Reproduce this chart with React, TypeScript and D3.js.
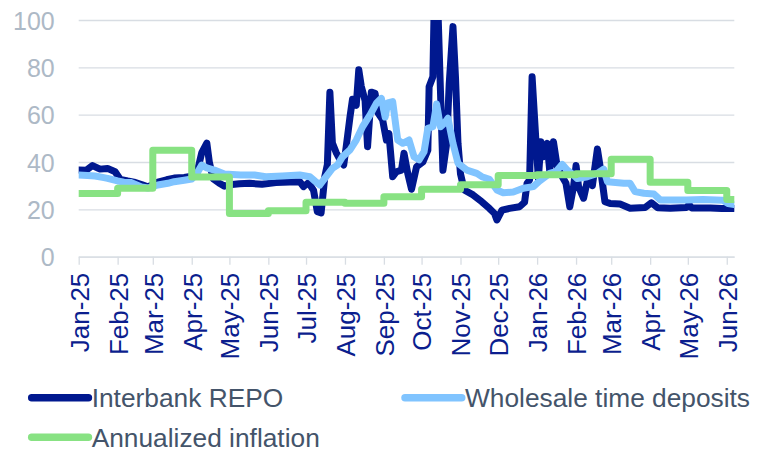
import { useEffect, useRef } from 'react'
import * as d3 from 'd3'

// ─── Data ────────────────────────────────────────────────────────────────────

const parseDay = d3.timeParse('%Y-%m-%d')

const startDate = '2025-01-01'
const endDate = '2026-06-07'

const yTicks = [0, 20, 40, 60, 80, 100]

const repoDates = [
  '2025-01-01', '2025-01-07', '2025-01-12', '2025-01-18', '2025-01-24', '2025-01-30',
  '2025-02-03', '2025-02-09', '2025-02-14', '2025-02-20', '2025-02-25', '2025-03-05',
  '2025-03-12', '2025-03-18', '2025-03-26', '2025-04-01', '2025-04-05', '2025-04-09',
  '2025-04-13', '2025-04-15', '2025-04-18', '2025-04-23', '2025-04-27', '2025-05-03',
  '2025-05-09', '2025-05-17', '2025-05-27', '2025-06-07', '2025-06-18', '2025-06-26',
  '2025-06-29', '2025-07-03', '2025-07-07', '2025-07-10', '2025-07-13', '2025-07-16',
  '2025-07-18', '2025-07-20', '2025-07-22', '2025-07-25', '2025-07-28', '2025-07-31',
  '2025-08-02', '2025-08-05', '2025-08-07', '2025-08-10', '2025-08-12', '2025-08-14',
  '2025-08-17', '2025-08-19', '2025-08-22', '2025-08-25', '2025-08-27', '2025-08-31',
  '2025-09-03', '2025-09-05', '2025-09-08', '2025-09-11', '2025-09-15', '2025-09-17',
  '2025-09-20', '2025-09-23', '2025-09-27', '2025-10-02', '2025-10-06', '2025-10-07',
  '2025-10-10', '2025-10-11', '2025-10-14', '2025-10-18', '2025-10-21', '2025-10-23',
  '2025-10-26', '2025-10-28', '2025-10-30', '2025-11-01', '2025-11-04', '2025-11-11',
  '2025-11-18', '2025-11-24', '2025-11-28', '2025-11-30', '2025-12-04', '2025-12-10',
  '2025-12-18', '2025-12-22', '2025-12-24', '2025-12-26', '2025-12-28', '2025-12-31',
  '2026-01-02', '2026-01-04', '2026-01-06', '2026-01-09', '2026-01-11', '2026-01-14',
  '2026-01-17', '2026-01-21', '2026-01-24', '2026-01-27', '2026-01-30', '2026-02-01',
  '2026-02-03', '2026-02-07', '2026-02-11', '2026-02-14', '2026-02-18', '2026-02-21',
  '2026-02-24', '2026-02-28', '2026-03-08', '2026-03-16', '2026-03-28', '2026-04-02',
  '2026-04-07', '2026-04-17', '2026-04-30', '2026-05-02', '2026-05-04', '2026-05-19',
  '2026-05-28', '2026-06-07',
]
const repoValues = [
  36.6, 36.5, 38.5, 37.0, 37.3, 35.9,
  32.7, 32.0, 31.5, 30.5, 29.5, 31.5,
  32.5, 33.2, 33.5, 34.0, 35.0, 44.0,
  48.0, 40.0, 33.0, 31.0, 29.8, 30.5,
  30.8, 31.0, 30.6, 31.3, 31.6, 31.7,
  29.6, 31.3, 28.0, 19.0, 18.5, 34.0,
  39.0, 69.5, 48.0, 44.0, 41.0, 38.7,
  46.5, 59.0, 66.5, 64.0, 79.0, 72.0,
  66.0, 46.5, 69.5, 69.0, 61.0, 57.8,
  49.3, 52.0, 33.8, 35.9, 36.6, 43.7,
  35.2, 28.5, 38.0, 40.0, 45.0, 71.8,
  76.0, 105, 105, 36.5, 47.9, 73.0,
  97.2, 76.0, 47.9, 35.0, 28.2, 26.1,
  23.2, 20.4, 18.3, 15.5, 19.7, 20.4,
  21.1, 23.0, 31.0, 32.4, 76.0, 49.3,
  33.0, 48.6, 42.2, 47.9, 36.6, 48.6,
  38.0, 33.8, 31.0, 21.1, 29.6, 38.5,
  29.6, 24.7, 34.5, 30.0, 45.5, 35.2,
  23.2, 22.5, 22.3, 20.5, 20.8, 22.8,
  20.7, 20.5, 20.8, 22.0, 20.6, 20.6,
  20.4, 20.4,
]

const depositDates = [
  '2025-01-01', '2025-01-08', '2025-01-14', '2025-01-20', '2025-01-24', '2025-02-01',
  '2025-02-06', '2025-02-12', '2025-02-20', '2025-02-25', '2025-03-05', '2025-03-13',
  '2025-03-18', '2025-03-26', '2025-04-01', '2025-04-05', '2025-04-09', '2025-04-13',
  '2025-04-19', '2025-04-27', '2025-05-10', '2025-05-21', '2025-05-30', '2025-06-12',
  '2025-06-26', '2025-07-04', '2025-07-08', '2025-07-12', '2025-07-17', '2025-07-22',
  '2025-07-26', '2025-07-30', '2025-08-05', '2025-08-10', '2025-08-15', '2025-08-21',
  '2025-08-26', '2025-08-30', '2025-09-02', '2025-09-04', '2025-09-08', '2025-09-12',
  '2025-09-16', '2025-09-21', '2025-09-25', '2025-09-29', '2025-10-03', '2025-10-06',
  '2025-10-10', '2025-10-13', '2025-10-16', '2025-10-19', '2025-10-22', '2025-10-26',
  '2025-10-30', '2025-11-06', '2025-11-14', '2025-11-18', '2025-11-24', '2025-11-30',
  '2025-12-05', '2025-12-13', '2025-12-21', '2025-12-29', '2026-01-03', '2026-01-11',
  '2026-01-16', '2026-01-21', '2026-01-25', '2026-01-30', '2026-02-02', '2026-02-10',
  '2026-02-18', '2026-02-23', '2026-02-26', '2026-03-11', '2026-03-16', '2026-03-20',
  '2026-03-27', '2026-04-04', '2026-04-09', '2026-04-21', '2026-04-30', '2026-05-13',
  '2026-05-29', '2026-06-02', '2026-06-07',
]
const depositValues = [
  34.5, 34.3, 34.1, 33.5, 33.1, 32.0,
  31.5, 31.3, 29.5, 29.0, 30.3, 31.0,
  31.7, 32.3, 32.8, 35.0, 38.7, 37.5,
  36.6, 34.9, 34.5, 34.5, 33.8, 34.1,
  34.5, 33.8, 32.0, 30.3, 33.8, 37.3,
  38.7, 42.2, 45.1, 49.3, 54.9, 59.9,
  64.8, 66.9, 59.0, 65.0, 65.5, 49.3,
  47.9, 49.3, 42.2, 40.9, 44.4, 54.2,
  54.9, 64.5, 54.9, 56.3, 58.5, 47.9,
  39.5, 36.6, 35.2, 33.8, 32.7, 28.2,
  27.0, 27.3, 28.9, 29.6, 32.0, 35.2,
  36.0, 39.0, 36.6, 34.5, 33.0, 33.8,
  35.2, 37.0, 31.7, 31.0, 31.0, 27.5,
  26.8, 26.5, 24.0, 24.0, 24.0, 24.2,
  23.8, 22.5, 22.0,
]

const inflationMonths = [
  '2025-01-01', '2025-02-01', '2025-03-01', '2025-04-01', '2025-05-01', '2025-06-01',
  '2025-07-01', '2025-08-01', '2025-09-01', '2025-10-01', '2025-11-01', '2025-12-01',
  '2026-01-01', '2026-02-01', '2026-03-01', '2026-04-01', '2026-05-01', '2026-06-01',
]
const inflationValues = [
  26.7, 28.9, 45.0, 33.7, 18.3, 19.4,
  23.0, 22.6, 25.3, 28.5, 30.4, 34.3,
  34.6, 35.0, 41.2, 31.5, 28.0, 24.2,
]

const seriesNames = ['Interbank REPO', 'Wholesale time deposits', 'Annualized inflation']
const seriesColors = ['#00188f', '#80c4ff', '#88e283']

// ─── Theme ───────────────────────────────────────────────────────────────────

const font = '"Liberation Sans", Arial, sans-serif'
const gridColor = '#d8dde3'
const yLabelColor = '#adb9c6'
const xLabelColor = '#0b1e8e'
const legendColor = '#44546a'

// ─── Component ───────────────────────────────────────────────────────────────

export default function App() {
  const ref = useRef<SVGSVGElement>(null)

  useEffect(() => {
    if (!ref.current) return
    const svg = d3.select(ref.current)
    svg.selectAll('*').remove()

    const W = 757
    const H = 450
    const plot = { left: 78.7, right: 734.3, top: 20, bottom: 256.7 }

    const x = d3
      .scaleTime()
      .domain([parseDay(startDate)!, parseDay(endDate)!])
      .range([plot.left, plot.right])
    const y = d3.scaleLinear().domain([0, 100]).range([plot.bottom, plot.top])

    svg.attr('width', W).attr('height', H).attr('viewBox', `0 0 ${W} ${H}`)

    // grid + y labels
    svg.append('g')
      .attr('transform', `translate(${plot.left},0)`)
      .call(
        d3.axisLeft(y)
          .tickValues(yTicks)
          .tickSize(-(plot.right - plot.left))
          .tickPadding(24)
          .tickFormat((v) => `${v}`)
      )
      .call((sel) => sel.select('.domain').remove())
      .call((sel) => sel.selectAll('line').attr('stroke', gridColor).attr('stroke-width', 1.3))
      .call((sel) =>
        sel.selectAll('text')
          .attr('font-family', font)
          .attr('font-size', 25)
          .attr('fill', yLabelColor)
          .attr('dy', '0.36em')
      )

    // x axis
    svg.append('g')
      .attr('transform', `translate(0,${plot.bottom})`)
      .call(
        d3.axisBottom(x)
          .ticks(d3.timeMonth.every(1))
          .tickSizeOuter(0)
          .tickSizeInner(8)
          .tickFormat((d) => d3.timeFormat('%b-%y')(d as Date))
      )
      .call((sel) => sel.select('.domain').attr('stroke', gridColor).attr('stroke-width', 1.3))
      .call((sel) => sel.selectAll('line').attr('stroke', gridColor).attr('stroke-width', 1.3))
      .call((sel) =>
        sel.selectAll('text')
          .attr('font-family', font)
          .attr('font-size', 26)
          .attr('fill', xLabelColor)
          .attr('transform', 'rotate(-90)')
          .attr('text-anchor', 'end')
          .attr('x', -16)
          .attr('y', 0)
          .attr('dy', '0.36em')
      )

    // clip
    svg.append('defs')
      .append('clipPath')
      .attr('id', 'plot-clip')
      .append('rect')
      .attr('x', plot.left)
      .attr('y', plot.top)
      .attr('width', plot.right - plot.left)
      .attr('height', H - plot.top)

    const line = d3
      .line<[Date, number]>()
      .x((d) => x(d[0]))
      .y((d) => y(d[1]))

    const stepLine = d3
      .line<[Date, number]>()
      .x((d) => x(d[0]))
      .y((d) => y(d[1]))
      .curve(d3.curveStepAfter)

    const repo: [Date, number][] = repoDates.map((d, i) => [parseDay(d)!, repoValues[i]])
    const deposits: [Date, number][] = depositDates.map((d, i) => [parseDay(d)!, depositValues[i]])
    const inflation: [Date, number][] = inflationMonths.map((d, i) => [parseDay(d)!, inflationValues[i]])
    inflation.push([parseDay(endDate)!, inflationValues[inflationValues.length - 1]])

    const lines = svg.append('g').attr('clip-path', 'url(#plot-clip)')

    const paths = [line(repo), line(deposits), stepLine(inflation)]
    paths.forEach((p, i) => {
      lines.append('path')
        .attr('d', p)
        .attr('fill', 'none')
        .attr('stroke', seriesColors[i])
        .attr('stroke-width', 7)
        .attr('stroke-linejoin', 'round')
        .attr('stroke-linecap', 'round')
    })

    // legend
    const legendItems = [
      { x: 31.7, y: 397.7 },
      { x: 405, y: 397.7 },
      { x: 31.7, y: 437.3 },
    ]
    legendItems.forEach((pos, i) => {
      svg.append('line')
        .attr('x1', pos.x)
        .attr('x2', pos.x + 56.7)
        .attr('y1', pos.y)
        .attr('y2', pos.y)
        .attr('stroke', seriesColors[i])
        .attr('stroke-width', 7.5)
        .attr('stroke-linecap', 'round')
      svg.append('text')
        .attr('x', pos.x + 60)
        .attr('y', pos.y)
        .attr('dy', '0.36em')
        .attr('font-family', font)
        .attr('font-size', 26.3)
        .attr('fill', legendColor)
        .text(seriesNames[i])
    })
  }, [])

  return (
    <svg
      ref={ref}
      style={{ position: 'absolute', left: 0, top: 0, display: 'block', background: '#fff' }}
    />
  )
}
